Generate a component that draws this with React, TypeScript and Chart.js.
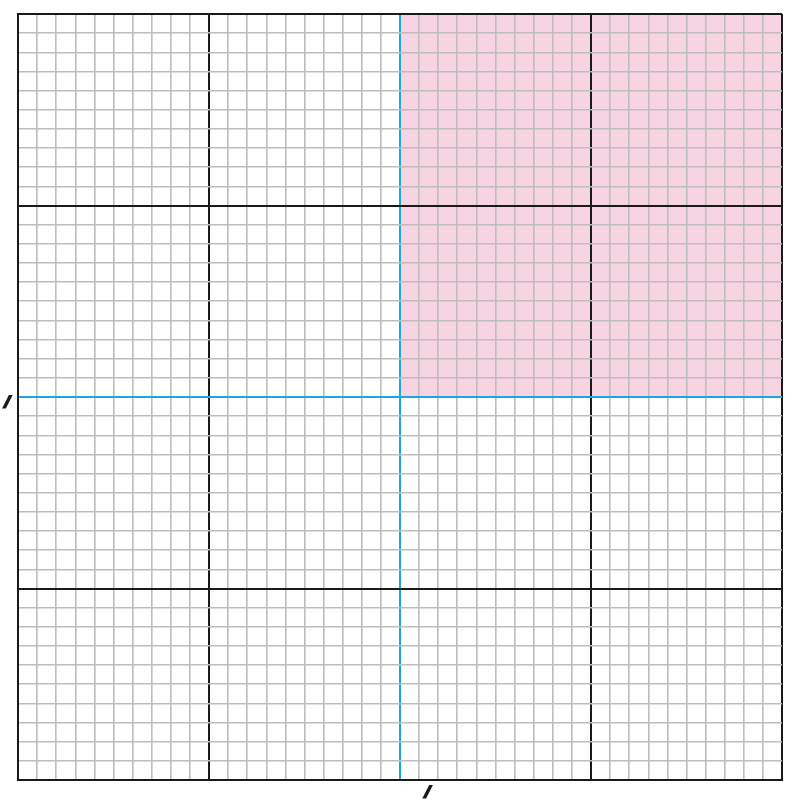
import React, { useEffect, useRef } from "react";
import { Chart, registerables } from "chart.js";
Chart.register(...registerables);

const xRange = [-20, 20];
const yRange = [-20, 20];
const majorEvery = 10;
const shadedQuadrant = { xMin: 0, xMax: 20, yMin: 0, yMax: 20 };
const axisLabels = [
  { text: "/", x: 1.45, y: -20.65 },
  { text: "/", x: -20.55, y: -0.3 },
];

function lineColor(v: number) {
  if (v === 0) return "#1aa7e0";
  if (v % majorEvery === 0) return "#1a1a1a";
  return "#bdbdbd";
}
function lineWidth(v: number) {
  if (v === 0 || v % majorEvery === 0) return 2;
  return 1.6;
}

const shadePlugin = {
  id: "shade",
  beforeDraw(chart: any) {
    const { ctx, scales } = chart;
    const x0 = scales.x.getPixelForValue(shadedQuadrant.xMin);
    const x1 = scales.x.getPixelForValue(shadedQuadrant.xMax);
    const y0 = scales.y.getPixelForValue(shadedQuadrant.yMax);
    const y1 = scales.y.getPixelForValue(shadedQuadrant.yMin);
    ctx.save();
    ctx.fillStyle = "#f7d4e2";
    ctx.fillRect(x0, y0, x1 - x0, y1 - y0);
    ctx.restore();
  },
  afterDraw(chart: any) {
    const { ctx, scales } = chart;
    ctx.save();
    ctx.fillStyle = "#1a1a1a";
    ctx.strokeStyle = "#1a1a1a";
    ctx.lineWidth = 2;
    ctx.font = "italic bold 14px 'DejaVu Sans'";
    ctx.textAlign = "center";
    ctx.textBaseline = "middle";
    for (const l of axisLabels) {
      const px = scales.x.getPixelForValue(l.x);
      const py = scales.y.getPixelForValue(l.y);
      ctx.fillText(l.text, px, py);
      ctx.strokeText(l.text, px, py);
    }
    ctx.restore();
  },
};

export default function App() {
  const ref = useRef<HTMLCanvasElement>(null);
  useEffect(() => {
    const scaleOpts = (r: number[]) => ({
      type: "linear" as const,
      min: r[0],
      max: r[1],
      ticks: { display: false, stepSize: 1 },
      grid: {
        drawTicks: false,
        color: (c: any) => lineColor(c.tick.value),
        lineWidth: (c: any) => lineWidth(c.tick.value),
      },
      border: { display: true, color: "#1a1a1a", width: 2 },
    });
    const chart = new Chart(ref.current!, {
      type: "scatter",
      data: { datasets: [{ data: [] }] },
      options: {
        animation: false,
        responsive: false,
        layout: { padding: { left: 18, top: 14, right: 14, bottom: 22 } },
        plugins: { legend: { display: false }, tooltip: { enabled: false } },
        scales: { x: scaleOpts(xRange), y: scaleOpts(yRange) },
      },
      plugins: [shadePlugin],
    });
    return () => chart.destroy();
  }, []);
  return (
    <div style={{ position: "absolute", left: 0, top: 0 }}>
      <canvas ref={ref} width={796} height={802} />
    </div>
  );
}
